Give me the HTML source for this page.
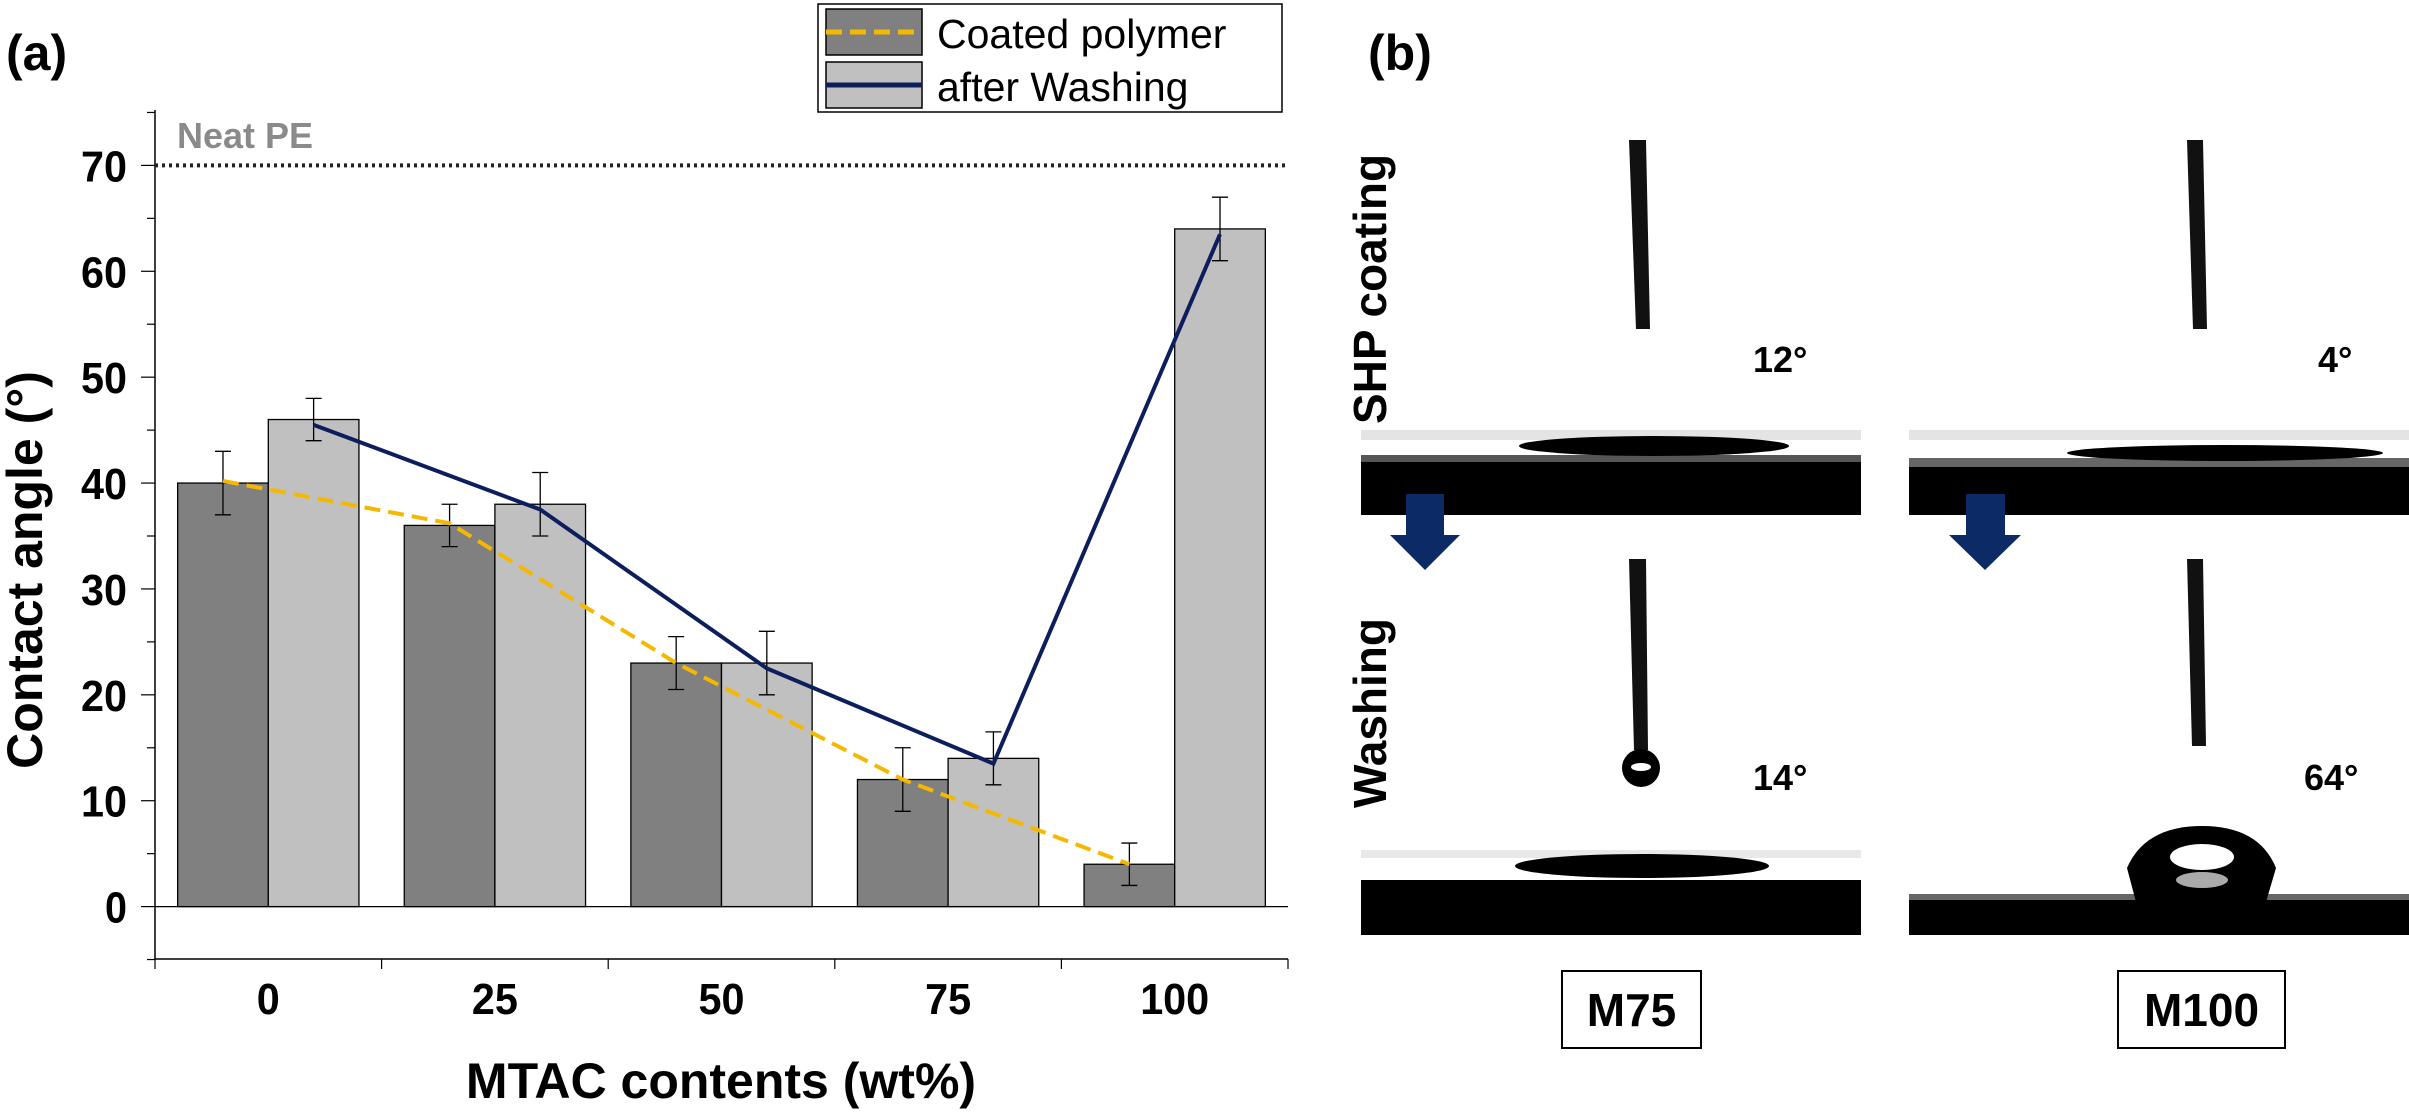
<!DOCTYPE html>
<html><head><meta charset="utf-8"><style>
html,body{margin:0;padding:0;background:#fff;}
svg{display:block;}
text{font-family:"Liberation Sans",sans-serif;}
</style></head><body>
<svg id="fig" width="2409" height="1112" viewBox="0 0 2409 1112" xmlns="http://www.w3.org/2000/svg">
<text x="6" y="70" font-size="50" font-weight="bold">(a)</text>
<g id="chart"></g>
<g>
 <rect x="818" y="4" width="464" height="108" fill="#fff" stroke="#000" stroke-width="1.5"/>
 <rect x="826" y="9" width="96" height="46" fill="#808080" stroke="#000" stroke-width="1.5"/>
 <line x1="826" y1="32" x2="922" y2="32" stroke="#f5b800" stroke-width="5" stroke-dasharray="16,8"/>
 <rect x="826" y="62" width="96" height="46" fill="#c0c0c0" stroke="#000" stroke-width="1.5"/>
 <line x1="826" y1="85" x2="922" y2="85" stroke="#0c1f5c" stroke-width="5"/>
 <text x="937" y="48" font-size="41">Coated polymer</text>
 <text x="937" y="101" font-size="41">after Washing</text>
</g>

<g>
<text x="1368" y="70" font-size="50" font-weight="bold">(b)</text>
<text transform="translate(1386,289) rotate(-90)" text-anchor="middle" font-size="46" font-weight="bold">SHP coating</text>
<text transform="translate(1386,713) rotate(-90)" text-anchor="middle" font-size="46" font-weight="bold">Washing</text>
<g>
 <rect x="1361" y="430" width="500" height="10" fill="#e4e4e4"/>
 <rect x="1361" y="461" width="500" height="54" fill="#000"/>
 <rect x="1361" y="455" width="500" height="7" fill="#555"/>
 <polygon points="1629,140 1646,140 1650,329 1636,329" fill="#111"/>
 <ellipse cx="1654" cy="446" rx="135" ry="10" fill="#000"/>
 <text x="1753" y="372" font-size="36" font-weight="bold">12°</text>
</g>
<g>
 <rect x="1909" y="430" width="500" height="10" fill="#e4e4e4"/>
 <rect x="1909" y="465" width="500" height="50" fill="#000"/>
 <rect x="1909" y="458" width="500" height="9" fill="#666"/>
 <polygon points="2187,140 2203,140 2207,329 2193,329" fill="#111"/>
 <ellipse cx="2225" cy="453" rx="158" ry="8" fill="#000"/>
 <text x="2318" y="372" font-size="36" font-weight="bold">4°</text>
</g>
<g>
 <rect x="1361" y="850" width="500" height="8" fill="#e8e8e8"/>
 <rect x="1361" y="880" width="500" height="55" fill="#000"/>
 <polygon points="1629,559 1646,559 1648,750 1634,750" fill="#111"/>
 <circle cx="1641" cy="768" r="19" fill="#000"/>
 <ellipse cx="1641" cy="767" rx="10" ry="4" fill="#fff"/>
 <ellipse cx="1642" cy="866" rx="127" ry="12" fill="#000"/>
 <text x="1753" y="790" font-size="36" font-weight="bold">14°</text>
</g>
<g>
 <rect x="1909" y="899" width="500" height="36" fill="#000"/>
 <rect x="1909" y="894" width="500" height="6" fill="#666"/>
 <polygon points="2187,559 2203,559 2206,746 2192,746" fill="#111"/>
 <path d="M2136,902 L2127,868 Q2145,826 2202,826 Q2259,826 2276,868 L2266,902 Z" fill="#000"/>
 <ellipse cx="2202" cy="857" rx="32" ry="13" fill="#fff"/>
 <ellipse cx="2202" cy="880" rx="26" ry="8" fill="#aaa"/>
 <text x="2304" y="790" font-size="36" font-weight="bold">64°</text>
</g>
<polygon points="1406,494 1444,494 1444,535 1460,535 1425,570 1390,535 1406,535" fill="#0c2a66"/>
<polygon points="1966,494 2005,494 2005,535 2021,535 1985,570 1949,535 1966,535" fill="#0c2a66"/>
<rect x="1562" y="971" width="139" height="77" fill="#fff" stroke="#000" stroke-width="2"/>
<text x="1631.5" y="1026" text-anchor="middle" font-size="46" font-weight="bold">M75</text>
<rect x="2118" y="971" width="167" height="77" fill="#fff" stroke="#000" stroke-width="2"/>
<text x="2201.5" y="1026" text-anchor="middle" font-size="46" font-weight="bold">M100</text>
</g>
</svg>
<script>
const categories = ["0","25","50","75","100"];
const coated = [40, 36, 23, 12, 4];
const coatedErr = [3, 2, 2.5, 3, 2];
const washed = [46, 38, 23, 14, 64];
const washedErr = [2, 3, 3, 2.5, 3];
const coatedLine = [40.2, 36.2, 23, 12, 4];
const washedLine = [45.5, 37.5, 22.5, 13.5, 63.5];
const yTicks = [0,10,20,30,40,50,60,70];
const neatPE = 70;

const NS = "http://www.w3.org/2000/svg";
const g = document.getElementById('chart');
const X0 = 155, X1 = 1288, Ytop = 110, Ybot = 959;
const y = v => 906.6 - (v - 0) * (906.6 - 165.4) / 70;
const gw = (X1 - X0) / categories.length;
const bw = gw * 0.4;
const cx = i => X0 + gw * (i + 0.5);
function mk(tag, attrs, parent) {
  const e = document.createElementNS(NS, tag);
  for (const k in attrs) e.setAttribute(k, attrs[k]);
  (parent || g).appendChild(e);
  return e;
}
let e;
e = mk('line', {x1:X0, y1:Ytop, x2:X0, y2:Ybot, stroke:'#000', 'stroke-width':1.5});


e = mk('line', {x1:X0, y1:Ybot, x2:X1, y2:Ybot, stroke:'#000', 'stroke-width':1.5});


e = mk('line', {x1:X0, y1:y(0), x2:X1, y2:y(0), stroke:'#000', 'stroke-width':1.2});


for (let v = -5; v <= 75; v += 5) {
  const major = v % 10 === 0 && v >= 0 && v <= 70;
  e = mk('line', {x1:X0 - (major ? 14 : 8), y1:y(v), x2:X0, y2:y(v), stroke:'#000', 'stroke-width':1.2});
  
  
}
yTicks.forEach(v => {
  const t = mk('text', {x:127, y:y(v) + 16, 'text-anchor':'end', 'font-size':44, 'font-weight':'bold', textLength: v === 0 ? 22 : 46, lengthAdjust:'spacingAndGlyphs'});
  t.textContent = v;
  
  
});
for (let i = 0; i <= categories.length; i++) {
  e = mk('line', {x1:X0 + gw * i, y1:Ybot, x2:X0 + gw * i, y2:Ybot + 10, stroke:'#000', 'stroke-width':1.2});
  
  
}
categories.forEach((c, i) => {
  const t = mk('text', {x:cx(i), y:1014, 'text-anchor':'middle', 'font-size':44, 'font-weight':'bold', textLength: c.length * 23, lengthAdjust:'spacingAndGlyphs'});
  t.textContent = c;
  
  
});
e = mk('line', {x1:X0, y1:y(neatPE), x2:X1, y2:y(neatPE), stroke:'#222', 'stroke-width':4, 'stroke-dasharray':'3,4'});


e = mk('text', {x:177, y:148, 'font-size':36, 'font-weight':'bold', fill:'#8a8a8a'});
e.textContent = 'Neat PE';


function errBar(xc, v, err) {
  const gg = mk('g', {});
  
  
  mk('line', {x1:xc, y1:y(v + err), x2:xc, y2:y(v - err), stroke:'#000', 'stroke-width':1.3}, gg);
  mk('line', {x1:xc - 8, y1:y(v + err), x2:xc + 8, y2:y(v + err), stroke:'#000', 'stroke-width':1.3}, gg);
  mk('line', {x1:xc - 8, y1:y(v - err), x2:xc + 8, y2:y(v - err), stroke:'#000', 'stroke-width':1.3}, gg);
}
categories.forEach((c, i) => {
  const b1 = mk('rect', {x:cx(i) - bw, y:y(coated[i]), width:bw, height:y(0) - y(coated[i]), fill:'#808080', stroke:'#000', 'stroke-width':1.3});
  
  
  const b2 = mk('rect', {x:cx(i), y:y(washed[i]), width:bw, height:y(0) - y(washed[i]), fill:'#c0c0c0', stroke:'#000', 'stroke-width':1.3});
  
  
});
categories.forEach((c, i) => {
  errBar(cx(i) - bw / 2, coated[i], coatedErr[i]);
  errBar(cx(i) + bw / 2, washed[i], washedErr[i]);
});
const p1 = coatedLine.map((v, i) => (cx(i) - bw / 2) + ',' + y(v)).join(' ');
e = mk('polyline', {points:p1, fill:'none', stroke:'#f5b800', 'stroke-width':4, 'stroke-dasharray':'16,8'});


const p2 = washedLine.map((v, i) => (cx(i) + bw / 2) + ',' + y(v)).join(' ');
e = mk('polyline', {points:p2, fill:'none', stroke:'#0c1f5c', 'stroke-width':4});


e = mk('text', {transform:'translate(42,570) rotate(-90)', 'text-anchor':'middle', 'font-size':50, 'font-weight':'bold'});
e.textContent = 'Contact angle (°)';


e = mk('text', {x:721, y:1098, 'text-anchor':'middle', 'font-size':50, 'font-weight':'bold'});
e.textContent = 'MTAC contents (wt%)';


</script>
</body></html>
